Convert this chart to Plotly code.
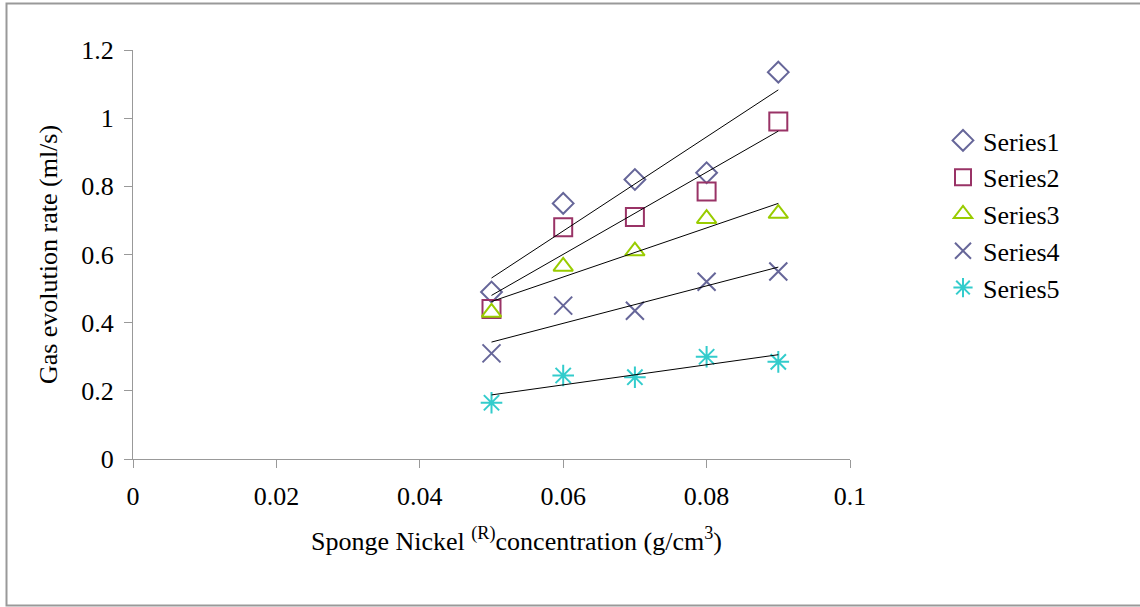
import numpy as np
import plotly.graph_objects as go

# ---- data ----
concentration = [0.05, 0.06, 0.07, 0.08, 0.09]
series1 = [0.49, 0.75, 0.82, 0.84, 1.135]
series2 = [0.44, 0.68, 0.71, 0.785, 0.99]
series3 = [0.43, 0.565, 0.61, 0.705, 0.72]
series4 = [0.31, 0.45, 0.435, 0.52, 0.55]
series5 = [0.165, 0.245, 0.24, 0.30, 0.285]
series_names = ["Series1", "Series2", "Series3", "Series4", "Series5"]
x_ticks = [0, 0.02, 0.04, 0.06, 0.08, 0.1]
y_ticks = [0, 0.2, 0.4, 0.6, 0.8, 1, 1.2]

# ---- styles ----
colors = ["#666699", "#993366", "#99CC00", "#666699", "#33CCCC"]
symbols = ["diamond-open", "square-open", "triangle-up-open", "x-thin-open", "asterisk-open"]
sizes = [16, 18, 17, 18, 18]
FONT = "Liberation Serif"

W, H = 1140, 607
L, R, T, B = 133, 290, 50, 148
pw, ph = W - L - R, H - T - B

def px_x(p):
    return (p - L) / pw

def px_y(p):
    return (H - B - p) / ph

fig = go.Figure()
all_series = [series1, series2, series3, series4, series5]
for name, ys, c, s, sz in zip(series_names, all_series, colors, symbols, sizes):
    fig.add_trace(go.Scatter(
        x=concentration, y=ys, mode="markers", name=name,
        marker=dict(symbol=s, size=sz, color=c, line=dict(color=c, width=2)),
    ))

xarr = np.array(concentration)
for ys in all_series:
    k, b = np.polyfit(xarr, np.array(ys), 1)
    xs = [concentration[0], concentration[-1]]
    fig.add_trace(go.Scatter(
        x=xs, y=[k * v + b for v in xs], mode="lines", showlegend=False,
        line=dict(color="black", width=1), hoverinfo="skip",
    ))

axis_common = dict(
    showgrid=False, zeroline=False, showline=True, linecolor="#999999", linewidth=1,
    ticks="outside", ticklen=8, tickcolor="#999999", tickwidth=1,
    tickfont=dict(family=FONT, size=26, color="black"),
)
fig.update_xaxes(range=[0, 0.1], tickvals=x_ticks, ticktext=[str(v) for v in x_ticks],
                 ticklabelstandoff=6, **axis_common)
fig.update_yaxes(range=[0, 1.2], tickvals=y_ticks, ticktext=[str(v) for v in y_ticks],
                 ticklabelstandoff=5,
                 title=dict(text="Gas evolution rate (ml/s)", font=dict(family=FONT, size=26, color="black"),
                            standoff=16),
                 **axis_common)

fig.add_annotation(
    text="Sponge Nickel <sup>(R)</sup>concentration (g/cm<sup>3</sup>)",
    xref="paper", yref="paper", x=px_x(516), y=px_y(539), xanchor="center", yanchor="middle",
    showarrow=False, font=dict(family=FONT, size=26, color="black"),
)

fig.add_shape(type="rect", xref="paper", yref="paper",
              x0=px_x(6.5), x1=px_x(1150), y0=px_y(605.5), y1=px_y(3.5),
              line=dict(color="#999999", width=2), fillcolor="rgba(0,0,0,0)", layer="below")

fig.update_layout(
    width=W, height=H, margin=dict(l=L, r=R, t=T, b=B, autoexpand=False),
    paper_bgcolor="white", plot_bgcolor="white",
    font=dict(family=FONT, size=26, color="black"),
    legend=dict(x=px_x(943), y=px_y(117), xanchor="left", yanchor="top",
                font=dict(family=FONT, size=26, color="black"),
                itemwidth=30, tracegroupgap=0, bgcolor="rgba(0,0,0,0)"),
    showlegend=True,
)

fig.write_html("out.html", config={"displayModeBar": False},
               post_script="document.body.style.margin='0';document.body.style.overflow='hidden';")
